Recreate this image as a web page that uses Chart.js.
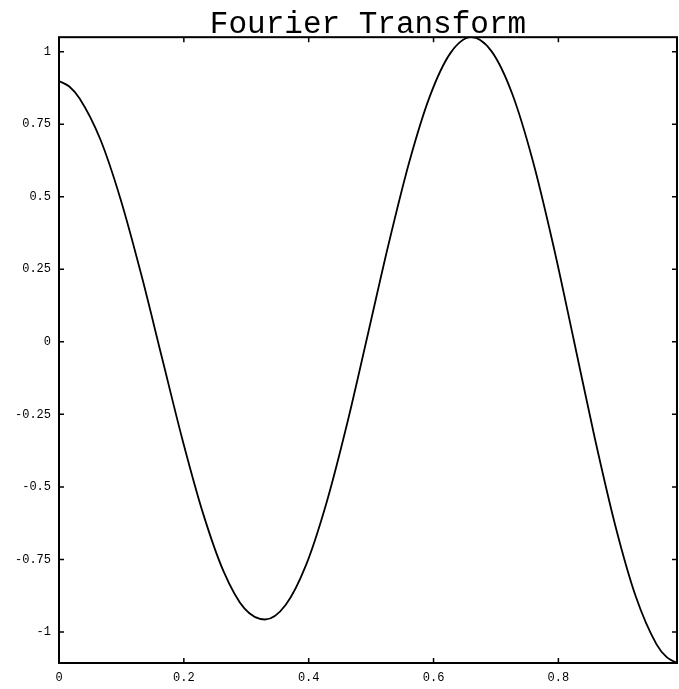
<!DOCTYPE html>
<html>
<head>
<meta charset="utf-8">
<script src="https://cdn.jsdelivr.net/npm/chart.js@4.4.0/dist/chart.umd.min.js"></script>
<style>
html, body { margin: 0; padding: 0; background: #fff; }
#wrap { width: 679px; height: 689px; }
</style>
</head>
<body>
<div id="wrap"><canvas id="chart"></canvas></div>
<script>
// values
const xValues = [0, 0.0165, 0.033, 0.066, 0.099, 0.132, 0.165, 0.198, 0.231, 0.264, 0.297,
    0.33, 0.363, 0.396, 0.429, 0.462, 0.495, 0.528, 0.561, 0.594, 0.627,
    0.66, 0.693, 0.726, 0.759, 0.792, 0.825, 0.858, 0.891, 0.924, 0.957, 0.9735, 0.99];
const yValues = [0.899, 0.880, 0.839, 0.699, 0.489, 0.230, -0.055, -0.339, -0.593, -0.793, -0.919,
    -0.957, -0.907, -0.768, -0.551, -0.278, 0.028, 0.337, 0.619, 0.846, 0.995,
    1.050, 1.001, 0.855, 0.624, 0.331, 0.003, -0.329, -0.632, -0.878, -1.042, -1.087, -1.107];
const xTicks = [0, 0.2, 0.4, 0.6, 0.8];
const yTicks = [-1, -0.75, -0.5, -0.25, 0, 0.25, 0.5, 0.75, 1];

const points = xValues.map((x, i) => ({x: x, y: yValues[i]}));

const tickFont = {family: 'Liberation Mono', size: 12};

// box round the plot with inward tick marks on all four sides
const framePlugin = {
    id: 'frame',
    afterDatasetsDraw(chart) {
        const ctx = chart.ctx;
        const a = chart.chartArea;
        const sx = chart.scales.x, sy = chart.scales.y;
        ctx.save();
        ctx.strokeStyle = '#000';
        ctx.lineWidth = 2;
        ctx.strokeRect(a.left, a.top, a.right - a.left, a.bottom - a.top);
        ctx.lineWidth = 1.5;
        ctx.beginPath();
        xTicks.forEach(v => {
            const px = sx.getPixelForValue(v);
            ctx.moveTo(px, a.bottom); ctx.lineTo(px, a.bottom - 5);
            ctx.moveTo(px, a.top); ctx.lineTo(px, a.top + 5);
        });
        yTicks.forEach(v => {
            const py = sy.getPixelForValue(v);
            ctx.moveTo(a.left, py); ctx.lineTo(a.left + 5, py);
            ctx.moveTo(a.right, py); ctx.lineTo(a.right - 5, py);
        });
        ctx.stroke();
        ctx.restore();
    }
};

const ctx = document.getElementById('chart').getContext('2d');
new Chart(ctx, {
    type: 'line',
    data: {
        datasets: [{
            data: points,
            borderColor: '#000',
            borderWidth: 1.8,
            pointRadius: 0,
            fill: false,
            cubicInterpolationMode: 'monotone'
        }]
    },
    options: {
        responsive: true,
        maintainAspectRatio: false,
        animation: false,
        devicePixelRatio: 1,
        layout: {padding: {left: 0, right: 2, top: 0, bottom: 0}},
        plugins: {
            legend: {display: false},
            tooltip: {enabled: false},
            title: {
                display: true,
                text: 'Fourier Transform',
                color: '#000',
                fullSize: false,
                font: {family: 'Liberation Mono', size: 31, weight: 'normal', lineHeight: 0.78},
                padding: {top: 13, bottom: 0}
            }
        },
        scales: {
            x: {
                type: 'linear',
                min: 0,
                max: 0.99,
                afterBuildTicks: s => { s.ticks = xTicks.map(v => ({value: v})); },
                afterFit: s => { s.height = 26; },
                grid: {display: false, drawTicks: false},
                border: {display: false},
                ticks: {color: '#000', font: tickFont, padding: 8, maxRotation: 0, autoSkip: false,
                    callback: v => String(v)}
            },
            y: {
                min: -1.107,
                max: 1.05,
                afterBuildTicks: s => { s.ticks = yTicks.map(v => ({value: v})); },
                afterFit: s => { s.width = 59; },
                grid: {display: false, drawTicks: false},
                border: {display: false},
                ticks: {color: '#000', font: tickFont, padding: 8, autoSkip: false,
                    callback: v => String(v)}
            }
        }
    },
    plugins: [framePlugin]
});
</script>
</body>
</html>
